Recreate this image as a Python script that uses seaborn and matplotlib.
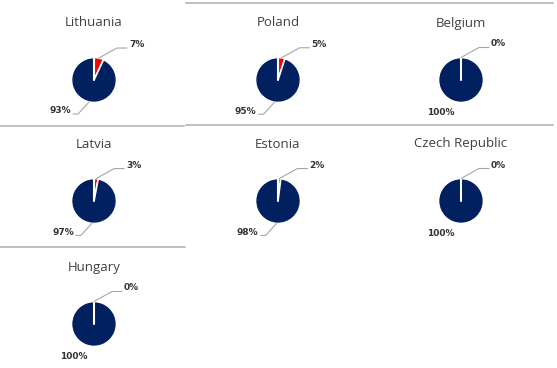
import numpy as np
import matplotlib.pyplot as plt
import seaborn as sns

sns.set_theme(style="white")
plt.rcParams['font.family'] = ['Open Sans', 'DejaVu Sans']

# data
countries = ["Lithuania", "Poland", "Belgium", "Latvia", "Estonia", "Czech Republic", "Hungary"]
other_pct = [7, 5, 0, 3, 2, 0, 0]
main_pct = [93, 95, 100, 97, 98, 100, 100]

# layout in pixels (figure is 557x368)
W, H = 557, 368
col_x = [94, 278, 461]
row_y = [80, 201, 324]
R = 22.5

colors = sns.color_palette(["#FF0000", "#002060"])
text_c = "#404040"
lead_c = "#A6A6A6"
lab_font = dict(family=["DejaVu Sans"], fontsize=6.5,
                fontweight="bold", color="#333333")

fig = plt.figure(figsize=(5.57, 3.68), dpi=100)
ax = fig.add_axes([0, 0, 1, 1])

for i, name in enumerate(countries):
    cx = col_x[i % 3]
    cy = H - row_y[i // 3]
    vals = [other_pct[i], main_pct[i]]
    ax.pie(vals, colors=colors, startangle=90, counterclock=False,
           center=(cx, cy), radius=R,
           wedgeprops=dict(edgecolor="white", linewidth=1.2))
    # slice boundary at 12 o'clock (visible even when one slice is 0%)
    ax.plot([cx, cx], [cy, cy + R], color="white", lw=1.5)
    ax.text(cx, cy + 57, name, ha="center", va="center", fontsize=9.5, color=text_c)

    p = vals[0] / sum(vals)
    # small slice label, top right with leader
    a = np.deg2rad(90 - 180 * p)
    x0, y0 = cx + R * np.cos(a), cy + R * np.sin(a)
    ex, ey = x0 + 18, y0 + 10
    ax.plot([x0, ex, ex + 10], [y0, ey, ey], color=lead_c, lw=0.8)
    ax.text(ex + 12, ey + 3.5, f"{vals[0]}%", ha="left", va="center", **lab_font)

    # main slice label, bottom left
    if vals[1] < 100:
        a = np.deg2rad(-90 - 180 * p)
        x0, y0 = cx + R * np.cos(a), cy + R * np.sin(a)
        ex, ey = x0 - 11, y0 - 12
        ax.plot([x0, ex, ex - 5], [y0, ey, ey], color=lead_c, lw=0.8)
        ax.text(ex - 7, ey + 3, f"{vals[1]}%", ha="right", va="center", **lab_font)
    else:
        ax.text(cx - 20, cy - R - 10, f"{vals[1]}%", ha="center", va="center", **lab_font)

# panel separator lines
seps = [((0, 184), 126), ((186, 553), 3), ((186, 553), 125), ((0, 185), 247)]
for (x_a, x_b), y in seps:
    ax.plot([x_a, x_b], [H - y, H - y], color="#BFBFBF", lw=1.4, clip_on=False)

ax.set_xlim(0, W)
ax.set_ylim(0, H)
ax.axis("off")

fig.savefig("out.png", dpi=100)
